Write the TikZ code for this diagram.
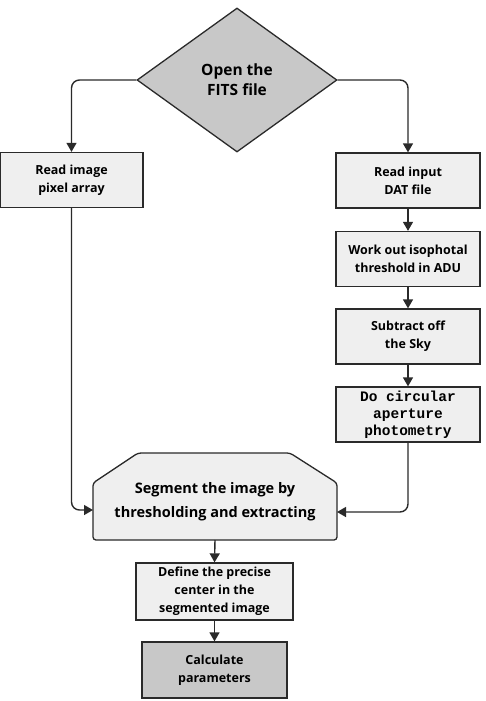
\documentclass[tikz,border=0pt]{standalone}
\usepackage{fontspec}
\setmainfont{Open Sans}
\setmonofont{Liberation Mono}
\usetikzlibrary{shapes.geometric,arrows.meta,calc}
\definecolor{lineC}{HTML}{2A2A2A}
\definecolor{boxF}{HTML}{EFEFEF}
\definecolor{darkF}{HTML}{C8C8C8}
\begin{document}
\begin{tikzpicture}[x=1pt,y=-1pt,
  every node/.style={font=\fontsize{12.5}{18}\selectfont\bfseries, align=center, text=black},
  procbox/.style={draw=lineC, line width=1.3pt, fill=boxF, minimum width=144pt, minimum height=55pt, inner sep=0pt},
  conn/.style={draw=lineC, line width=1.4pt, rounded corners=8pt, -{Triangle[width=10pt,length=9pt]}}
]
\useasboundingbox (0,0) rectangle (486,701);
% diamond
\node[diamond, draw=lineC, line width=1.3pt, fill=darkF, minimum width=200pt, minimum height=144pt, inner sep=0pt,
  font=\fontsize{15.5}{20}\selectfont\bfseries] (open) at (237,80) {Open the\\FITS file};
% left branch
\node[procbox, minimum width=143pt] (read1) at (71.5,180) {Read image\\pixel array};
% right column
\node[procbox] (read2) at (408,180.5) {Read input\\DAT file};
\node[procbox] (work) at (408,259) {Work out isophotal\\threshold in ADU};
\node[procbox] (sub) at (408,336.5) {Subtract off\\the Sky};
\node[procbox, font=\fontsize{14.5}{17}\selectfont\ttfamily\bfseries] (phot) at (408,414.5) {Do circular\\aperture\\photometry};
% segment shape
\draw[draw=lineC, line width=1.3pt, fill=boxF, rounded corners=3pt]
  (93,483) -- (138,453) -- (290,453) -- (337,483) -- (337,540) -- (93,540) -- cycle;
\node[font=\fontsize{14.5}{24}\selectfont\bfseries] (seg) at (215,502) {Segment the image by\\thresholding and extracting};
\coordinate (segL) at (93,510);
\coordinate (segR) at (337,512);
\coordinate (segB) at (215,540);
% lower boxes
\node[procbox, minimum width=157pt, minimum height=57pt] (def) at (214.5,591.5) {Define the precise\\center in the\\segmented image};
\node[procbox, fill=darkF, minimum width=145pt, minimum height=56pt] (calc) at (214.5,670) {Calculate\\parameters};
% connectors
\draw[conn] (open.west) -| (read1.north);
\draw[conn] (open.east) -| (read2.north);
\draw[conn] (read2) -- (work);
\draw[conn] (work) -- (sub);
\draw[conn] (sub) -- (phot);
\draw[conn] (read1.south) |- (segL);
\draw[conn] (phot.south) |- (segR);
\draw[conn] (segB) -- (def.north);
\draw[conn] (def) -- (calc);
\end{tikzpicture}
\end{document}
